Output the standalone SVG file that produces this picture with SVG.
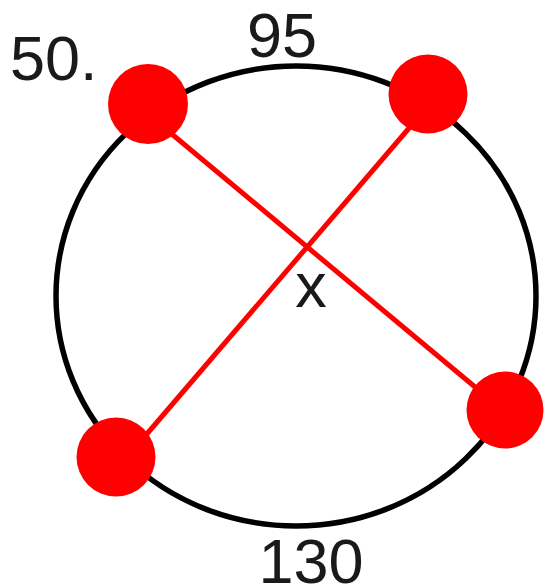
<svg xmlns="http://www.w3.org/2000/svg" width="544" height="587" viewBox="0 0 544 587">
<style>
.lbl{font-family:"Liberation Sans",Arial,sans-serif;font-size:63px;fill:#1a1a1a}
.dot{fill:#ff0000}
.chord{stroke:#ff0000;stroke-width:5;fill:none}
</style>
<rect width="544" height="587" fill="#ffffff"/>
<g id="circle"><ellipse cx="296" cy="296" rx="240" ry="230" fill="none" stroke="#000000" stroke-width="5.5"/></g>
<g id="connectors">
<line class="chord" x1="149" y1="115" x2="505" y2="412"/>
<line class="chord" x1="428" y1="106" x2="116" y2="470"/>
</g>
<g id="p1"><circle class="dot" cx="148" cy="104" r="40"/></g>
<g id="p2"><circle class="dot" cx="428" cy="94" r="39.5"/></g>
<g id="p3"><circle class="dot" cx="116" cy="457" r="39.5"/></g>
<g id="p4"><circle class="dot" cx="505" cy="410" r="38.5"/></g>
<g id="labels">
<text class="lbl" x="10" y="80">50.</text>
<text class="lbl" x="282" y="57" text-anchor="middle">95</text>
<text class="lbl" x="311" y="583" text-anchor="middle">130</text>
<text class="lbl" x="311" y="307" text-anchor="middle">x</text>
</g>
</svg>
